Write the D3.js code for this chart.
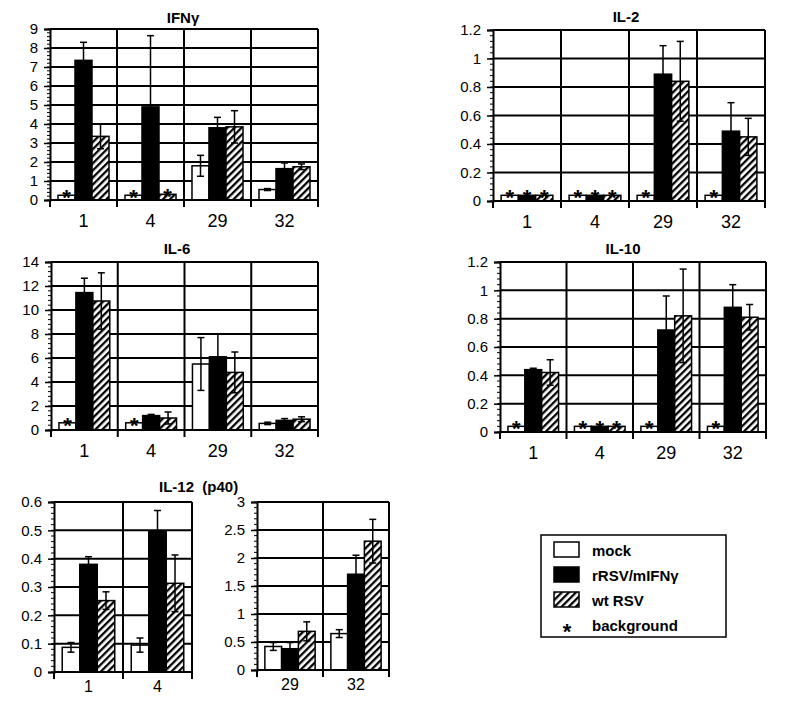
<!DOCTYPE html>
<html><head><meta charset="utf-8">
<script src="https://cdn.jsdelivr.net/npm/d3@7"></script>
<style>
body{margin:0;background:#fff;}
svg{display:block;font-family:"Liberation Sans",Arial,Helvetica,sans-serif;}
</style></head>
<body>
<svg id="chart" width="785" height="712"></svg>
<script>
// ---------- data ----------
const seriesNames = ["mock", "rRSV/mIFNγ", "wt RSV"];

const ifnCats = ["1", "4", "29", "32"];
const ifnMock = [0.25, 0.25, 1.8, 0.55];
const ifnMockErr = [0, 0, 0.55, 0.05];
const ifnRrsv = [7.35, 4.9, 3.8, 1.65];
const ifnRrsvErr = [0.95, 3.75, 0.55, 0.3];
const ifnWt = [3.35, 0.3, 3.85, 1.75];
const ifnWtErr = [0.65, 0, 0.85, 0.15];
const ifnBg = [[1, 0, 0], [1, 0, 1], [0, 0, 0], [0, 0, 0]];
const ifnTicks = [0, 1, 2, 3, 4, 5, 6, 7, 8, 9];

const il2Cats = ["1", "4", "29", "32"];
const il2Mock = [0.04, 0.04, 0.04, 0.04];
const il2MockErr = [0, 0, 0, 0];
const il2Rrsv = [0.04, 0.04, 0.89, 0.49];
const il2RrsvErr = [0, 0, 0.2, 0.2];
const il2Wt = [0.04, 0.04, 0.84, 0.45];
const il2WtErr = [0, 0, 0.28, 0.13];
const il2Bg = [[1, 1, 1], [1, 1, 1], [1, 0, 0], [1, 0, 0]];
const il2Ticks = [0, 0.2, 0.4, 0.6, 0.8, 1, 1.2];

const il6Cats = ["1", "4", "29", "32"];
const il6Mock = [0.6, 0.6, 5.5, 0.55];
const il6MockErr = [0, 0, 2.2, 0.1];
const il6Rrsv = [11.45, 1.2, 6.1, 0.8];
const il6RrsvErr = [1.2, 0.1, 1.9, 0.15];
const il6Wt = [10.75, 1.0, 4.8, 0.9];
const il6WtErr = [2.35, 0.5, 1.7, 0.2];
const il6Bg = [[1, 0, 0], [1, 0, 0], [0, 0, 0], [0, 0, 0]];
const il6Ticks = [0, 2, 4, 6, 8, 10, 12, 14];

const il10Cats = ["1", "4", "29", "32"];
const il10Mock = [0.04, 0.04, 0.04, 0.04];
const il10MockErr = [0, 0, 0, 0];
const il10Rrsv = [0.44, 0.04, 0.72, 0.88];
const il10RrsvErr = [0.01, 0, 0.24, 0.16];
const il10Wt = [0.42, 0.04, 0.82, 0.81];
const il10WtErr = [0.09, 0, 0.33, 0.09];
const il10Bg = [[1, 0, 0], [1, 1, 1], [1, 0, 0], [1, 0, 0]];
const il10Ticks = [0, 0.2, 0.4, 0.6, 0.8, 1, 1.2];

const il12aCats = ["1", "4"];
const il12aMock = [0.087, 0.095];
const il12aMockErr = [0.017, 0.025];
const il12aRrsv = [0.38, 0.495];
const il12aRrsvErr = [0.027, 0.075];
const il12aWt = [0.252, 0.313];
const il12aWtErr = [0.031, 0.1];
const il12aBg = [[0, 0, 0], [0, 0, 0]];
const il12aTicks = [0, 0.1, 0.2, 0.3, 0.4, 0.5, 0.6];

const il12bCats = ["29", "32"];
const il12bMock = [0.42, 0.65];
const il12bMockErr = [0.07, 0.07];
const il12bRrsv = [0.38, 1.71];
const il12bRrsvErr = [0.11, 0.34];
const il12bWt = [0.69, 2.3];
const il12bWtErr = [0.17, 0.39];
const il12bBg = [[0, 0, 0], [0, 0, 0]];
const il12bTicks = [0, 0.5, 1, 1.5, 2, 2.5, 3];

// ---------- layout ----------
const panels = [
  {cats: ifnCats, vals: [ifnMock, ifnRrsv, ifnWt], errs: [ifnMockErr, ifnRrsvErr, ifnWtErr], bg: ifnBg, ticks: ifnTicks,
   x0: 50, x1: 318, yT: 29, yB: 200, xFont: 18, xLab: 27},
  {cats: il2Cats, vals: [il2Mock, il2Rrsv, il2Wt], errs: [il2MockErr, il2RrsvErr, il2WtErr], bg: il2Bg, ticks: il2Ticks,
   x0: 493, x1: 765, yT: 30, yB: 201, xFont: 18, xLab: 27},
  {cats: il6Cats, vals: [il6Mock, il6Rrsv, il6Wt], errs: [il6MockErr, il6RrsvErr, il6WtErr], bg: il6Bg, ticks: il6Ticks,
   x0: 51, x1: 318, yT: 262, yB: 430, xFont: 18, xLab: 27},
  {cats: il10Cats, vals: [il10Mock, il10Rrsv, il10Wt], errs: [il10MockErr, il10RrsvErr, il10WtErr], bg: il10Bg, ticks: il10Ticks,
   x0: 500, x1: 766, yT: 262, yB: 432, xFont: 18, xLab: 27},
  {cats: il12aCats, vals: [il12aMock, il12aRrsv, il12aWt], errs: [il12aMockErr, il12aRrsvErr, il12aWtErr], bg: il12aBg, ticks: il12aTicks,
   x0: 54, x1: 192, yT: 502, yB: 672, xFont: 16, xLab: 20},
  {cats: il12bCats, vals: [il12bMock, il12bRrsv, il12bWt], errs: [il12bMockErr, il12bRrsvErr, il12bWtErr], bg: il12bBg, ticks: il12bTicks,
   x0: 257, x1: 389, yT: 502, yB: 670, xFont: 16, xLab: 20}
];

const titles = [
  {text: "IFNγ", x: 183, y: 23, anchor: "middle"},
  {text: "IL-2", x: 626, y: 22, anchor: "middle"},
  {text: "IL-6", x: 177, y: 254, anchor: "middle"},
  {text: "IL-10", x: 623, y: 254, anchor: "middle"},
  {text: "IL-12  (p40)", x: 159, y: 492, anchor: "start"}
];

const svg = d3.select("#chart");
const defs = svg.append("defs");
const pat = defs.append("pattern").attr("id", "hatch").attr("patternUnits", "userSpaceOnUse")
  .attr("width", 5).attr("height", 10).attr("patternTransform", "rotate(45)");
pat.append("rect").attr("width", 5).attr("height", 10).attr("fill", "#fff");
pat.append("rect").attr("width", 2.3).attr("height", 10).attr("fill", "#000");

const fills = ["#fff", "#000", "url(#hatch)"];
const fmt = d => String(+d.toFixed(2));

panels.forEach(p => {
  const g = svg.append("g");
  const x = d3.scaleBand().domain(p.cats).range([p.x0, p.x1]).paddingInner(0).paddingOuter(0);
  const xs = d3.scaleBand().domain(d3.range(3)).range([0, x.bandwidth()]).paddingInner(0).paddingOuter(0.47);
  const ymax = p.ticks[p.ticks.length - 1];
  const y = d3.scaleLinear().domain([0, ymax]).range([p.yB, p.yT]);
  const step = p.ticks[1] - p.ticks[0];

  // grid lines
  g.selectAll("line.hg").data(p.ticks.slice(1)).join("line")
    .attr("x1", p.x0).attr("x2", p.x1).attr("y1", d => y(d)).attr("y2", d => y(d))
    .attr("stroke", "#000").attr("stroke-width", 2);
  const bounds = p.cats.map(c => x(c) + x.bandwidth());
  g.selectAll("line.vg").data(bounds).join("line")
    .attr("x1", d => d).attr("x2", d => d).attr("y1", p.yT).attr("y2", p.yB + 7)
    .attr("stroke", "#000").attr("stroke-width", 2);

  // minor ticks
  const minor = d3.range(0, ymax + 1e-9, step / 5);
  g.selectAll("line.mn").data(minor).join("line")
    .attr("x1", p.x0 - 3).attr("x2", p.x0).attr("y1", d => y(d)).attr("y2", d => y(d))
    .attr("stroke", "#000").attr("stroke-width", 1);

  // y axis
  const yAxis = d3.axisLeft(y).tickValues(p.ticks).tickFormat(fmt).tickSize(6).tickPadding(6);
  const ya = g.append("g").attr("transform", `translate(${p.x0},0)`).call(yAxis);
  ya.select(".domain").attr("stroke-width", 2);
  ya.selectAll(".tick line").attr("stroke-width", 1.5);
  ya.selectAll(".tick text").attr("font-size", 15).attr("fill", "#000")
    .attr("font-family", "'Liberation Sans', Arial, sans-serif");

  // bars
  p.cats.forEach((c, i) => {
    for (let s = 0; s < 3; s++) {
      const v = p.vals[s][i], e = p.errs[s][i];
      const bx = x(c) + xs(s), bw = xs.bandwidth();
      g.append("rect").attr("x", bx).attr("y", y(v)).attr("width", bw).attr("height", y(0) - y(v))
        .attr("fill", fills[s]).attr("stroke", "#000").attr("stroke-width", 1.5);
      if (e > 0) {
        const cx = bx + bw / 2;
        g.append("line").attr("x1", cx).attr("x2", cx).attr("y1", y(v - e)).attr("y2", y(v + e))
          .attr("stroke", "#000").attr("stroke-width", 1.5);
        [v + e, v - e].forEach(t => {
          g.append("line").attr("x1", cx - 3.5).attr("x2", cx + 3.5).attr("y1", y(t)).attr("y2", y(t))
            .attr("stroke", "#000").attr("stroke-width", 1.5);
        });
      }
      if (p.bg[i][s]) {
        g.append("text").attr("x", bx + bw / 2).attr("y", y(v) + 10).attr("text-anchor", "middle")
          .attr("font-size", 22).attr("font-weight", "bold").text("*");
      }
    }
  });

  // x axis
  g.append("line").attr("x1", p.x0).attr("x2", p.x1).attr("y1", p.yB).attr("y2", p.yB)
    .attr("stroke", "#000").attr("stroke-width", 2);
  g.append("line").attr("x1", p.x0).attr("x2", p.x0).attr("y1", p.yB).attr("y2", p.yB + 7)
    .attr("stroke", "#000").attr("stroke-width", 2);
  g.selectAll("text.xl").data(p.cats).join("text")
    .attr("x", d => x(d) + x.bandwidth() / 2).attr("y", p.yB + p.xLab)
    .attr("text-anchor", "middle").attr("font-size", p.xFont).text(d => d);
});

titles.forEach(t => {
  svg.append("text").attr("x", t.x).attr("y", t.y).attr("text-anchor", t.anchor)
    .attr("font-size", 15).attr("font-weight", "bold").style("white-space", "pre").text(t.text);
});

// legend
const lg = svg.append("g");
lg.append("rect").attr("x", 541).attr("y", 535).attr("width", 185).attr("height", 102)
  .attr("fill", "#fff").attr("stroke", "#000").attr("stroke-width", 1.5);
const legendLabels = seriesNames.concat(["background"]);
legendLabels.forEach((name, i) => {
  const cy = 549 + i * 25;
  if (i < 3) {
    lg.append("rect").attr("x", 554).attr("y", cy - 7).attr("width", 25).attr("height", 15)
      .attr("fill", fills[i]).attr("stroke", "#000").attr("stroke-width", 1.5);
  } else {
    lg.append("text").attr("x", 567).attr("y", cy + 15).attr("text-anchor", "middle")
      .attr("font-size", 22).attr("font-weight", "bold").text("*");
  }
  lg.append("text").attr("x", 592).attr("y", cy + 7).attr("font-size", 15).attr("font-weight", "bold").text(name);
});
</script>
</body></html>
